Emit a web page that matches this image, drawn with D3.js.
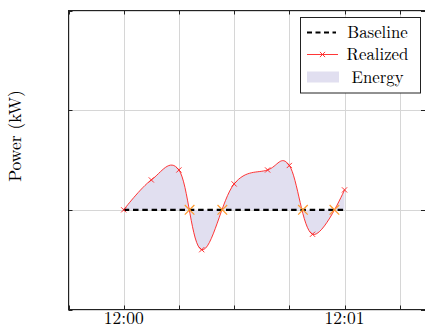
<!DOCTYPE html>
<html>
<head>
<meta charset="utf-8">
<script src="https://cdn.jsdelivr.net/npm/d3@7"></script>
<style>
  body { margin: 0; background: #fff; }
  svg { display: block; font-family: "Latin Modern Roman", "Liberation Serif", serif; }
</style>
</head>
<body>
<div id="chart"></div>
<script>
// seconds after 12:00
const realizedT = [0, 7.5, 15, 21.2, 30, 39.1, 45, 51.3, 60];
const realizedKW = [0, 0.3, 0.4, -0.4, 0.26, 0.4, 0.445, -0.245, 0.2];
const baselineT = [0, 60];
const baselineKW = [0, 0];
const crossingT = [17.9, 26.8, 48.7, 57.25];
const xTicks = [-15, 0, 15, 30, 45, 60, 75];
const xTickLabels = { 0: "12:00", 60: "12:01" };
const yTicks = [-1, 0, 1, 2];
const legendLabels = ["Baseline", "Realized", "Energy"];

const width = 425, height = 331;
const plotL = 68.5, plotR = 425.5, plotT = 10.5, plotB = 309.5;

const svg = d3.select("#chart").append("svg")
    .attr("width", width)
    .attr("height", height);

const x = d3.scaleLinear().domain([-15, 82]).range([plotL, plotR]);
const y = d3.scaleLinear().domain([-1, 2]).range([plotB, plotT]);

// grid
const grid = svg.append("g").attr("stroke", "#d6d6d6").attr("stroke-width", 1);
grid.selectAll("line.vx")
    .data(xTicks)
    .join("line")
    .attr("x1", d => Math.round(x(d)) + 0.5)
    .attr("x2", d => Math.round(x(d)) + 0.5)
    .attr("y1", plotT)
    .attr("y2", plotB);
grid.selectAll("line.hy")
    .data(yTicks)
    .join("line")
    .attr("x1", plotL)
    .attr("x2", plotR)
    .attr("y1", d => Math.round(y(d)) + 0.5)
    .attr("y2", d => Math.round(y(d)) + 0.5);

const realized = realizedT.map((t, i) => ({ t, v: realizedKW[i] }));
const baseline = baselineT.map((t, i) => ({ t, v: baselineKW[i] }));
const curve = d3.curveCardinal.tension(-0.1);

// energy fill between realized and baseline
const area = d3.area()
    .x(d => x(d.t))
    .y0(y(0))
    .y1(d => y(d.v))
    .curve(curve);
svg.append("path")
    .datum(realized)
    .attr("d", area)
    .attr("fill", "#e1dff0");

// realized line
const line = d3.line()
    .x(d => x(d.t))
    .y(d => y(d.v))
    .curve(curve);
svg.append("path")
    .datum(realized)
    .attr("d", line)
    .attr("fill", "none")
    .attr("stroke", "#ff2020")
    .attr("stroke-width", 0.9);

// baseline
svg.append("path")
    .datum(baseline)
    .attr("d", d3.line().x(d => x(d.t)).y(d => y(d.v)))
    .attr("fill", "none")
    .attr("stroke", "#000")
    .attr("stroke-width", 2.2)
    .attr("stroke-dasharray", "5.5,3.8");

function cross(g, cx, cy, r, color, w) {
    g.append("path")
        .attr("d", `M${cx - r},${cy - r}L${cx + r},${cy + r}M${cx - r},${cy + r}L${cx + r},${cy - r}`)
        .attr("stroke", color)
        .attr("stroke-width", w)
        .attr("fill", "none");
}

// markers
const marks = svg.append("g");
realized.forEach(d => cross(marks, x(d.t), y(d.v), 2.6, "#ff2020", 0.9));
crossingT.forEach(t => cross(marks, x(t), y(0), 4.8, "#ff9a2e", 1.2));

// axis box and ticks
const axis = svg.append("g").attr("stroke", "#222").attr("stroke-width", 1);
axis.selectAll("line.tb")
    .data(xTicks)
    .join("line")
    .attr("x1", d => Math.round(x(d)) + 0.5)
    .attr("x2", d => Math.round(x(d)) + 0.5)
    .attr("y1", plotB)
    .attr("y2", plotB - 4);
axis.selectAll("line.tt")
    .data(xTicks)
    .join("line")
    .attr("x1", d => Math.round(x(d)) + 0.5)
    .attr("x2", d => Math.round(x(d)) + 0.5)
    .attr("y1", plotT)
    .attr("y2", plotT + 4);
axis.selectAll("line.tl")
    .data(yTicks)
    .join("line")
    .attr("x1", plotL)
    .attr("x2", plotL + 4)
    .attr("y1", d => Math.round(y(d)) + 0.5)
    .attr("y2", d => Math.round(y(d)) + 0.5);
axis.selectAll("line.tr")
    .data(yTicks)
    .join("line")
    .attr("x1", plotR - 4.5)
    .attr("x2", plotR)
    .attr("y1", d => Math.round(y(d)) + 0.5)
    .attr("y2", d => Math.round(y(d)) + 0.5);
axis.append("rect")
    .attr("x", plotL)
    .attr("y", plotT)
    .attr("width", plotR - plotL)
    .attr("height", plotB - plotT)
    .attr("fill", "none");

// tick labels
svg.append("g")
    .selectAll("text")
    .data(xTicks.filter(d => xTickLabels[d]))
    .join("text")
    .attr("x", d => x(d))
    .attr("y", 324)
    .attr("text-anchor", "middle")
    .attr("font-size", 17.5)
    .text(d => xTickLabels[d]);

// y label
svg.append("text")
    .attr("transform", "translate(21,136) rotate(-90)")
    .attr("text-anchor", "middle")
    .attr("font-size", 17.5)
    .text("Power (kW)");

// legend
const lg = svg.append("g");
lg.append("rect")
    .attr("x", 300.5)
    .attr("y", 17.5)
    .attr("width", 120)
    .attr("height", 75.5)
    .attr("fill", "#fff")
    .attr("stroke", "#222")
    .attr("stroke-width", 1);
const rowY = [32.5, 54.5, 77];
lg.append("line")
    .attr("x1", 307).attr("x2", 336)
    .attr("y1", rowY[0]).attr("y2", rowY[0])
    .attr("stroke", "#000").attr("stroke-width", 2.2)
    .attr("stroke-dasharray", "5,3.5");
lg.append("line")
    .attr("x1", 307).attr("x2", 338)
    .attr("y1", rowY[1]).attr("y2", rowY[1])
    .attr("stroke", "#ff2020").attr("stroke-width", 0.9);
cross(lg, 322.5, rowY[1], 2.6, "#ff2020", 0.9);
lg.append("rect")
    .attr("x", 307).attr("y", rowY[2] - 5.5)
    .attr("width", 32).attr("height", 11)
    .attr("fill", "#e1dff0");
lg.selectAll("text")
    .data(legendLabels)
    .join("text")
    .attr("x", 377.5)
    .attr("y", (d, i) => rowY[i] + 5.5)
    .attr("text-anchor", "middle")
    .attr("font-size", 16.8)
    .text(d => d);
</script>
</body>
</html>
